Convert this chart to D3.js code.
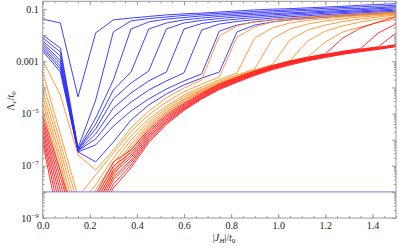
<!DOCTYPE html>
<html>
<head>
<meta charset="utf-8">
<script src="https://cdn.jsdelivr.net/npm/d3@7"></script>
<style>
  body { margin: 0; background: #fff; }
  svg { display: block; }
  svg text { font-family: "Liberation Serif", "DejaVu Serif", serif; }
</style>
</head>
<body>
<svg id="chart" width="399" height="249"></svg>
<script>
// sample points along |J_H|/t0
const jH = [0, 0.075, 0.15, 0.225, 0.3, 0.375, 0.45, 0.525, 0.6, 0.675, 0.75,
            0.825, 0.9, 0.975, 1.05, 1.125, 1.2, 1.275, 1.35, 1.425, 1.5];

// log10(Lambda_c/t0), one row per curve
const blueCurves = [
  [-1.38,-1.53,-4.36,-1.91,-1.41,-1.34,-1.28,-1.22,-1.18,-1.15,-1.11,-1.07,-1.03,-1.00,-0.98,-0.95,-0.92,-0.89,-0.85,-0.82,-0.79],
  [-1.99,-2.49,-6.32,-4.48,-1.87,-1.45,-1.36,-1.30,-1.24,-1.20,-1.16,-1.13,-1.09,-1.06,-1.03,-1.00,-0.97,-0.94,-0.91,-0.88,-0.85],
  [-2.10,-2.64,-6.36,-5.17,-3.71,-1.76,-1.49,-1.38,-1.32,-1.26,-1.22,-1.18,-1.15,-1.11,-1.08,-1.05,-1.03,-0.99,-0.97,-0.94,-0.90],
  [-2.22,-2.79,-6.39,-5.40,-4.10,-3.41,-1.76,-1.53,-1.41,-1.34,-1.28,-1.24,-1.20,-1.17,-1.14,-1.11,-1.08,-1.05,-1.02,-0.98,-0.95],
  [-2.30,-2.95,-6.39,-5.59,-4.44,-3.83,-3.37,-1.76,-1.53,-1.43,-1.36,-1.30,-1.26,-1.22,-1.18,-1.15,-1.12,-1.09,-1.06,-1.03,-1.00],
  [-2.37,-3.06,-6.43,-5.78,-4.79,-4.21,-3.75,-3.41,-1.76,-1.55,-1.45,-1.38,-1.32,-1.28,-1.23,-1.20,-1.16,-1.13,-1.10,-1.07,-1.04],
  [-2.45,-3.18,-6.43,-5.97,-5.13,-4.56,-4.10,-3.75,-3.44,-1.80,-1.57,-1.47,-1.40,-1.34,-1.29,-1.25,-1.21,-1.17,-1.14,-1.11,-1.08],
  [-2.52,-3.29,-6.47,-6.20,-5.48,-4.90,-4.44,-4.06,-3.75,-3.48,-1.84,-1.61,-1.49,-1.41,-1.36,-1.31,-1.26,-1.22,-1.18,-1.15,-1.11],
  [-2.60,-3.41,-6.47,-6.85,-6.09,-5.25,-4.67,-4.25,-3.90,-3.64,-3.41,-1.87,-1.61,-1.49,-1.41,-1.36,-1.31,-1.26,-1.22,-1.18,-1.15]
];

const orangeCurves = [
  [-2.95,-4.29,-6.59,-7.16,-6.39,-5.55,-4.90,-4.40,-4.02,-3.71,-2.03,-1.64,-1.47,-1.40,-1.34,-1.29,-1.25,-1.21,-1.18,-1.14,-1.11],
  [-3.41,-5.78,-8.19,-7.35,-6.51,-5.69,-5.05,-4.56,-4.17,-3.87,-3.60,-2.07,-1.68,-1.49,-1.41,-1.35,-1.30,-1.26,-1.21,-1.18,-1.14],
  [-3.79,-6.11,-8.50,-7.74,-6.70,-5.86,-5.21,-4.71,-4.29,-3.98,-3.71,-3.44,-2.10,-1.72,-1.53,-1.43,-1.36,-1.30,-1.25,-1.21,-1.16],
  [-4.10,-6.39,-8.88,-7.93,-6.89,-6.01,-5.32,-4.79,-4.36,-4.06,-3.77,-3.52,-3.29,-2.14,-1.76,-1.57,-1.45,-1.37,-1.30,-1.25,-1.19],
  [-4.36,-6.66,-9.27,-8.16,-7.08,-6.17,-5.42,-4.86,-4.44,-4.10,-3.81,-3.56,-3.33,-3.12,-2.18,-1.80,-1.61,-1.47,-1.38,-1.30,-1.22],
  [-4.59,-6.89,-9.65,-8.31,-7.24,-6.28,-5.49,-4.94,-4.48,-4.13,-3.85,-3.60,-3.37,-3.16,-2.97,-2.22,-1.84,-1.64,-1.49,-1.38,-1.28],
  [-4.82,-7.16,-10.03,-8.50,-7.39,-6.39,-5.55,-4.98,-4.52,-4.17,-3.87,-3.62,-3.39,-3.18,-2.98,-2.83,-2.26,-1.87,-1.68,-1.51,-1.38]
];

const redCurves = [
  [-5.05,-7.22,-9.38,-8.08,-6.85,-6.39,-5.62,-5.04,-4.59,-4.21,-3.87,-3.61,-3.37,-3.16,-2.99,-2.84,-2.71,-2.10,-1.72,-1.49,-1.30],
  [-5.21,-7.44,-9.69,-8.23,-7.01,-6.49,-5.69,-5.10,-4.64,-4.25,-3.90,-3.64,-3.40,-3.19,-3.01,-2.86,-2.73,-2.61,-2.51,-1.91,-1.57],
  [-5.36,-7.69,-10.03,-8.39,-7.16,-6.59,-5.76,-5.15,-4.68,-4.28,-3.93,-3.67,-3.42,-3.21,-3.03,-2.88,-2.75,-2.63,-2.53,-2.44,-1.91],
  [-5.51,-7.95,-10.38,-8.54,-7.28,-6.68,-5.83,-5.21,-4.72,-4.31,-3.96,-3.69,-3.45,-3.23,-3.05,-2.90,-2.77,-2.65,-2.55,-2.46,-2.36],
  [-5.67,-8.23,-10.80,-8.69,-7.43,-6.78,-5.90,-5.26,-4.76,-4.35,-3.99,-3.72,-3.47,-3.25,-3.07,-2.92,-2.79,-2.67,-2.57,-2.48,-2.38],
  [-5.82,-8.57,-11.18,-8.85,-7.54,-6.87,-5.97,-5.31,-4.80,-4.38,-4.02,-3.75,-3.49,-3.27,-3.09,-2.94,-2.81,-2.69,-2.59,-2.50,-2.40],
  [-5.97,-8.95,-11.76,-9.00,-7.70,-6.97,-6.04,-5.36,-4.84,-4.41,-4.05,-3.77,-3.51,-3.29,-3.11,-2.96,-2.83,-2.71,-2.61,-2.52,-2.42],
  [-6.13,-9.42,-12.52,-9.15,-7.85,-7.08,-6.11,-5.41,-4.88,-4.44,-4.08,-3.80,-3.54,-3.32,-3.14,-2.98,-2.85,-2.73,-2.63,-2.54,-2.44]
];

// cut-off level drawn as a flat line
const floorJ = [0, 1.5];
const floorValues = [1e-8, 1e-8];

// ticks
const xTicks = [0, 0.2, 0.4, 0.6, 0.8, 1.0, 1.2, 1.4];
const xTickLabels = ["0.0", "0.2", "0.4", "0.6", "0.8", "1.0", "1.2", "1.4"];
const yTicks = [1e-1, 1e-3, 1e-5, 1e-7, 1e-9];
const yTickLabels = [["0.1", ""], ["0.001", ""], ["10", "\u22125"], ["10", "\u22127"], ["10", "\u22129"]];

const svg = d3.select("#chart"),
      width = +svg.attr("width"),
      height = +svg.attr("height"),
      margin = { top: 1.3, right: 3, bottom: 31, left: 42.7 };

const x = d3.scaleLinear().domain([0, 1.5]).range([margin.left, width - margin.right]);
const y = d3.scaleLog().domain([1e-9, 0.2]).range([height - margin.bottom, margin.top]);

const frameColor = "#9a9a9a";
const serif = "'Liberation Serif', 'DejaVu Serif', serif";

// clip curves to the part above the cut-off line
svg.append("clipPath").attr("id", "clip")
  .append("rect")
  .attr("x", x(0))
  .attr("y", y(0.2))
  .attr("width", x(1.5) - x(0))
  .attr("height", y(floorValues[0]) - y(0.2));

const line = d3.line()
  .x((d, i) => x(jH[i]))
  .y(d => y(Math.pow(10, d)));

const curves = svg.append("g")
  .attr("clip-path", "url(#clip)")
  .attr("fill", "none")
  .attr("stroke-width", 0.9)
  .attr("stroke-linejoin", "round");

[[blueCurves, "#2b2bff"], [orangeCurves, "#ff9026"], [redCurves, "#ff1a1a"]].forEach(([set, col]) => {
  curves.selectAll(null)
    .data(set)
    .enter()
    .append("path")
    .attr("stroke", col)
    .attr("d", line);
});

// flat cut-off line
svg.append("path")
  .datum(floorValues)
  .attr("fill", "none")
  .attr("stroke", "#7c7ce6")
  .attr("stroke-width", 1)
  .attr("d", d3.line().x((d, i) => x(floorJ[i])).y(d => y(d)));

// minor tick positions
const xMinor = d3.range(0, 1.5001, 0.05);
const yMajor = d3.range(-9, 0).map(e => Math.pow(10, e));
const yMinor = [];
yMajor.forEach(b => { for (let k = 2; k <= 9; k++) if (b * k <= 0.2) yMinor.push(b * k); });

function styleAxis(g) {
  g.select(".domain").remove();
  g.selectAll("line").attr("stroke", frameColor);
}

const plotBottom = y(1e-9), plotTop = y(0.2), plotLeft = x(0), plotRight = x(1.5);

// bottom
svg.append("g").attr("transform", `translate(0,${plotBottom})`)
  .call(d3.axisBottom(x).tickValues(xMinor).tickSize(-2).tickFormat(""))
  .call(styleAxis);
svg.append("g").attr("transform", `translate(0,${plotBottom})`)
  .call(d3.axisBottom(x).tickValues(xTicks).tickSize(-4).tickPadding(4)
    .tickFormat((d, i) => xTickLabels[i]))
  .call(styleAxis)
  .attr("font-family", serif)
  .attr("font-size", 10)
  .call(g => g.selectAll("text").attr("fill", "#222"));

// top
svg.append("g").attr("transform", `translate(0,${plotTop})`)
  .call(d3.axisTop(x).tickValues(xMinor).tickSize(-2).tickFormat(""))
  .call(styleAxis);
svg.append("g").attr("transform", `translate(0,${plotTop})`)
  .call(d3.axisTop(x).tickValues(xTicks).tickSize(-4).tickFormat(""))
  .call(styleAxis);

// left / right
[[d3.axisLeft, plotLeft], [d3.axisRight, plotRight]].forEach(([ax, pos]) => {
  svg.append("g").attr("transform", `translate(${pos},0)`)
    .call(ax(y).tickValues(yMinor).tickSize(-2).tickFormat(""))
    .call(styleAxis);
  svg.append("g").attr("transform", `translate(${pos},0)`)
    .call(ax(y).tickValues(yMajor).tickSize(-4).tickFormat(""))
    .call(styleAxis);
});

// y tick labels with superscripts
const yLab = svg.append("g")
  .attr("font-family", serif)
  .attr("font-size", 10)
  .attr("fill", "#222")
  .attr("text-anchor", "end");
yTicks.forEach((v, i) => {
  const t = yLab.append("text")
    .attr("x", plotLeft - 4)
    .attr("y", y(v) + 3.5);
  t.append("tspan").text(yTickLabels[i][0]);
  if (yTickLabels[i][1]) {
    t.append("tspan").attr("font-size", 7).attr("dy", -4).text(yTickLabels[i][1]);
  }
});

// frame
svg.append("rect")
  .attr("x", plotLeft)
  .attr("y", plotTop)
  .attr("width", plotRight - plotLeft)
  .attr("height", plotBottom - plotTop)
  .attr("fill", "none")
  .attr("stroke", frameColor)
  .attr("stroke-width", 1);

// axis titles
const xt = svg.append("text")
  .attr("x", 224)
  .attr("y", 241)
  .attr("text-anchor", "middle")
  .attr("font-family", serif)
  .attr("font-size", 10)
  .attr("fill", "#222");
xt.append("tspan").text("|");
xt.append("tspan").attr("font-style", "italic").text("J");
xt.append("tspan").attr("font-style", "italic").attr("font-size", 7).attr("dy", 2).text("H");
xt.append("tspan").attr("dy", -2).text("|/");
xt.append("tspan").attr("font-style", "italic").text("t");
xt.append("tspan").attr("font-size", 7).attr("dy", 2).text("0");

const yt = svg.append("text")
  .attr("transform", "translate(14,101) rotate(-90)")
  .attr("text-anchor", "middle")
  .attr("font-family", serif)
  .attr("font-size", 10)
  .attr("fill", "#222");
yt.append("tspan").text("\u039B");
yt.append("tspan").attr("font-style", "italic").attr("font-size", 7).attr("dy", 2).text("c");
yt.append("tspan").attr("dy", -2).text("/");
yt.append("tspan").attr("font-style", "italic").text("t");
yt.append("tspan").attr("font-size", 7).attr("dy", 2).text("0");
</script>
</body>
</html>
